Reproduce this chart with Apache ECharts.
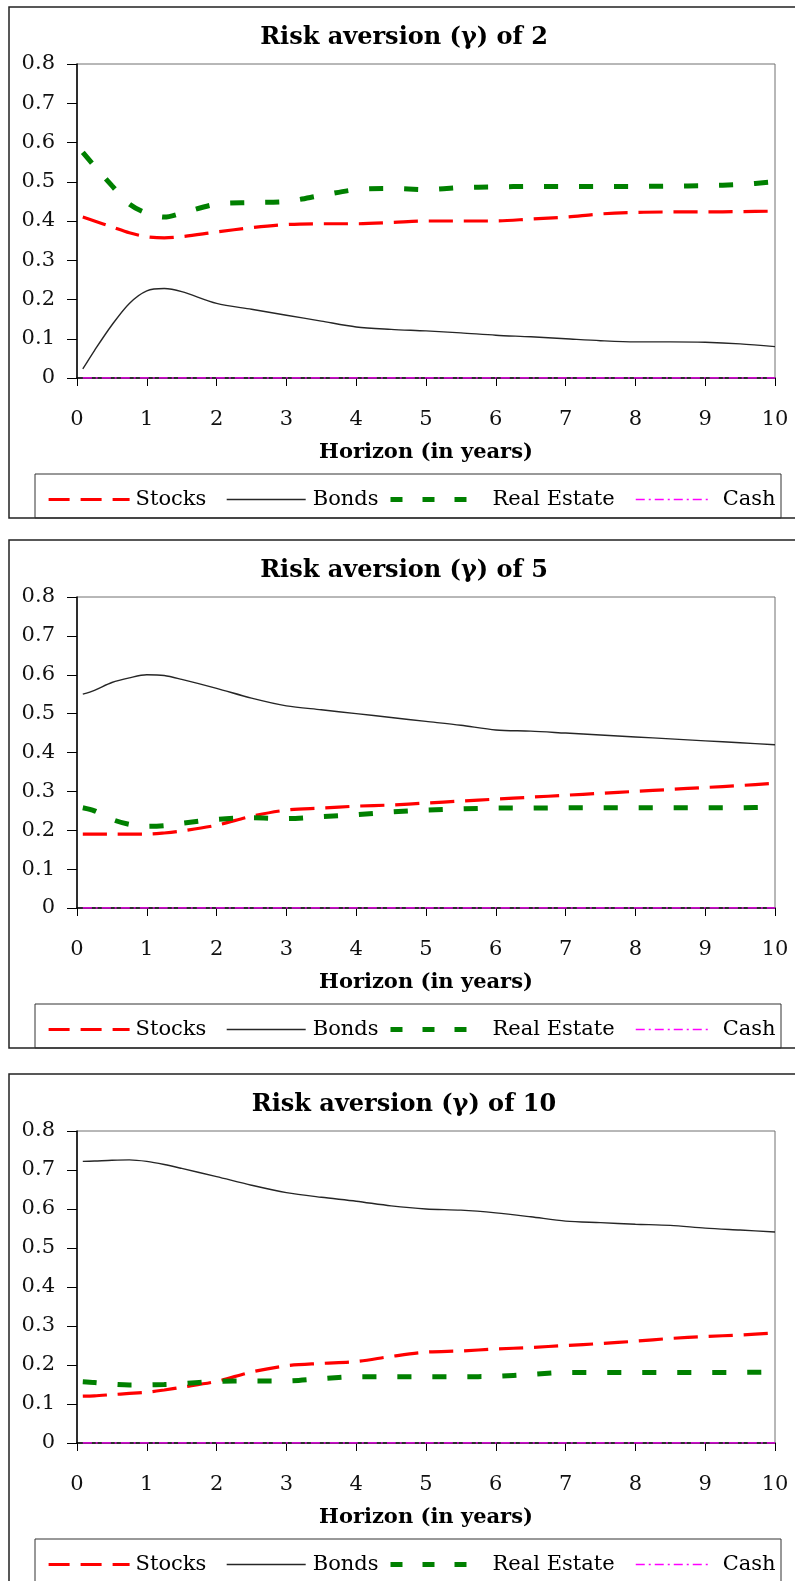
<!DOCTYPE html>
<html>
<head>
<meta charset="utf-8">
<script src="https://cdn.jsdelivr.net/npm/echarts@6/dist/echarts.min.js"></script>
<style>
html,body{margin:0;padding:0;background:#fff;}
#c{width:795px;height:1581px;}
</style>
</head>
<body>
<div id="c"></div>
<script>
// ---- data ----
const horizon = [0.083, 0.25, 0.5, 0.75, 1, 1.25, 1.5, 2, 2.5, 3, 3.5, 4, 4.5, 5, 5.5, 6, 6.5, 7, 7.5, 8, 8.5, 9, 9.5, 10];
const seriesNames = ['Stocks', 'Bonds', 'Real Estate', 'Cash'];
const panelTitles = ['Risk aversion (\u03b3) of 2', 'Risk aversion (\u03b3) of 5', 'Risk aversion (\u03b3) of 10'];
const xAxisTitle = 'Horizon (in years)';
const xTicks = [0, 1, 2, 3, 4, 5, 6, 7, 8, 9, 10];
const yTicks = [0, 0.1, 0.2, 0.3, 0.4, 0.5, 0.6, 0.7, 0.8];

// gamma = 2
const stocks2 = [0.41, 0.40, 0.385, 0.37, 0.36, 0.357, 0.36, 0.372, 0.383, 0.391, 0.393, 0.393, 0.396, 0.40, 0.40, 0.40, 0.405, 0.41, 0.418, 0.422, 0.423, 0.423, 0.424, 0.425];
const bonds2 = [0.023, 0.07, 0.135, 0.19, 0.222, 0.228, 0.22, 0.19, 0.175, 0.16, 0.145, 0.13, 0.124, 0.12, 0.115, 0.109, 0.105, 0.10, 0.095, 0.092, 0.092, 0.091, 0.087, 0.08];
const realEstate2 = [0.575, 0.54, 0.49, 0.443, 0.42, 0.41, 0.42, 0.443, 0.447, 0.45, 0.465, 0.48, 0.483, 0.48, 0.485, 0.487, 0.488, 0.488, 0.488, 0.488, 0.489, 0.49, 0.493, 0.50];
const cash2 = [0, 0, 0, 0, 0, 0, 0, 0, 0, 0, 0, 0, 0, 0, 0, 0, 0, 0, 0, 0, 0, 0, 0, 0];

// gamma = 5
const stocks5 = [0.19, 0.19, 0.19, 0.19, 0.19, 0.193, 0.198, 0.213, 0.236, 0.252, 0.257, 0.262, 0.265, 0.27, 0.275, 0.28, 0.285, 0.29, 0.295, 0.30, 0.305, 0.31, 0.315, 0.321];
const bonds5 = [0.55, 0.56, 0.58, 0.592, 0.60, 0.598, 0.588, 0.565, 0.54, 0.52, 0.51, 0.50, 0.49, 0.48, 0.47, 0.458, 0.455, 0.45, 0.445, 0.44, 0.435, 0.43, 0.425, 0.42];
const realEstate5 = [0.258, 0.25, 0.228, 0.215, 0.21, 0.212, 0.218, 0.228, 0.232, 0.23, 0.235, 0.24, 0.247, 0.252, 0.255, 0.257, 0.257, 0.258, 0.258, 0.258, 0.258, 0.258, 0.258, 0.26];
const cash5 = [0, 0, 0, 0, 0, 0, 0, 0, 0, 0, 0, 0, 0, 0, 0, 0, 0, 0, 0, 0, 0, 0, 0, 0];

// gamma = 10
const stocks10 = [0.12, 0.121, 0.124, 0.127, 0.13, 0.136, 0.143, 0.158, 0.182, 0.198, 0.204, 0.209, 0.222, 0.233, 0.236, 0.241, 0.245, 0.25, 0.255, 0.261, 0.268, 0.273, 0.277, 0.282];
const bonds10 = [0.722, 0.723, 0.725, 0.726, 0.722, 0.714, 0.704, 0.683, 0.661, 0.642, 0.63, 0.62, 0.608, 0.60, 0.597, 0.59, 0.58, 0.569, 0.565, 0.561, 0.558, 0.551, 0.546, 0.541];
const realEstate10 = [0.157, 0.155, 0.151, 0.149, 0.149, 0.15, 0.152, 0.158, 0.159, 0.159, 0.165, 0.17, 0.17, 0.17, 0.17, 0.171, 0.176, 0.181, 0.181, 0.181, 0.181, 0.181, 0.181, 0.182];
const cash10 = [0, 0, 0, 0, 0, 0, 0, 0, 0, 0, 0, 0, 0, 0, 0, 0, 0, 0, 0, 0, 0, 0, 0, 0];

const panels = [
  [stocks2, bonds2, realEstate2, cash2],
  [stocks5, bonds5, realEstate5, cash5],
  [stocks10, bonds10, realEstate10, cash10]
];

// ---- styles / layout ----
const FONT = 'DejaVu Serif';
const gridTops = [64, 597, 1131];
const gridHeights = [314, 311, 312];
const gridLeft = 77, gridWidth = 698;
const styles = [
  {color: '#ff0000', width: 3.2, type: [24, 11]},
  {color: '#262626', width: 1.4, type: 'solid'},
  {color: '#008000', width: 5, type: [14, 21]},
  {color: '#ff00ff', width: 1.5, type: [9, 4, 2, 4]}
];
const legendPos = [
  {left: 47, w: 81, gap: 6, type: [21, 11]},
  {left: 226, w: 79, gap: 7, type: 'solid'},
  {left: 388, w: 79, gap: 23, type: [12, 20]},
  {left: 635, w: 73, gap: 14, type: [9, 4, 2, 4]}
];

const chart = echarts.init(document.getElementById('c'), null, {renderer: 'canvas'});

const grid = [], xAxis = [], yAxis = [], series = [], title = [], legend = [], graphic = [];
panels.forEach((p, i) => {
  const top = gridTops[i], h = gridHeights[i], axisY = top + h;
  grid.push({left: gridLeft, top: top, width: gridWidth, height: h, show: true, borderColor: '#707070', borderWidth: 1, containLabel: false});
  xAxis.push({
    gridIndex: i, type: 'value', min: xTicks[0], max: xTicks[xTicks.length - 1], interval: 1,
    name: xAxisTitle, nameLocation: 'middle', nameGap: 63,
    nameTextStyle: {fontFamily: FONT, fontWeight: 'bold', fontSize: 21, color: '#000', lineHeight: 24},
    axisLine: {show: true, onZero: false, lineStyle: {color: '#000', width: 1.5}},
    axisTick: {show: true, inside: false, length: 8, lineStyle: {color: '#000', width: 1}},
    axisLabel: {fontFamily: FONT, fontSize: 21, color: '#111', margin: 30, lineHeight: 24},
    splitLine: {show: false}
  });
  yAxis.push({
    gridIndex: i, type: 'value', min: yTicks[0], max: yTicks[yTicks.length - 1], interval: 0.1,
    axisLine: {show: true, onZero: false, lineStyle: {color: '#000', width: 1.5}},
    axisTick: {show: true, inside: false, length: 10, lineStyle: {color: '#000', width: 1}},
    axisLabel: {fontFamily: FONT, fontSize: 21, color: '#111', margin: 22},
    splitLine: {show: false}
  });
  p.forEach((vals, k) => {
    series.push({
      name: seriesNames[k], type: 'line', xAxisIndex: i, yAxisIndex: i,
      data: horizon.map((x, j) => [x, vals[j]]),
      smooth: 0.3, symbol: 'none', showSymbol: false,
      lineStyle: {color: styles[k].color, width: styles[k].width, type: styles[k].type, cap: 'butt'},
      itemStyle: {color: styles[k].color},
      z: 3 + (k === 3 ? 1 : 0),
      animation: false
    });
  });
  title.push({
    text: panelTitles[i], left: 404, top: top - 39, textAlign: 'center', padding: 0,
    textStyle: {fontFamily: FONT, fontWeight: 'bold', fontSize: 24, color: '#000', lineHeight: 26}
  });
  legendPos.forEach((lp, k) => {
    legend.push({
      data: [seriesNames[k]], left: lp.left, top: axisY + 111, padding: 0,
      itemWidth: lp.w, itemHeight: 24, selectedMode: false,
      itemStyle: {opacity: 0, color: 'rgba(0,0,0,0)', borderColor: 'rgba(0,0,0,0)', borderWidth: 0},
      lineStyle: {color: styles[k].color, width: styles[k].width, type: lp.type, opacity: 1, cap: 'butt'},
      textStyle: {fontFamily: FONT, fontSize: 21, color: '#000', padding: [0, 0, 0, lp.gap - 5]}
    });
  });
  // outer panel frame and legend frame
  graphic.push({type: 'rect', silent: true, z: -1, shape: {x: 9, y: top - 57, width: 800, height: (i < 2 ? axisY + 140 : 2000) - (top - 57)}, style: {fill: 'none', stroke: '#222', lineWidth: 1.5}});
  graphic.push({type: 'rect', silent: true, z: -1, shape: {x: 35, y: axisY + 96, width: 746, height: (i < 2 ? 44 : 200)}, style: {fill: 'none', stroke: '#333', lineWidth: 1}});
});

chart.setOption({
  animation: false,
  backgroundColor: '#fff',
  title, grid, xAxis, yAxis, series, legend, graphic
});
</script>
</body>
</html>
